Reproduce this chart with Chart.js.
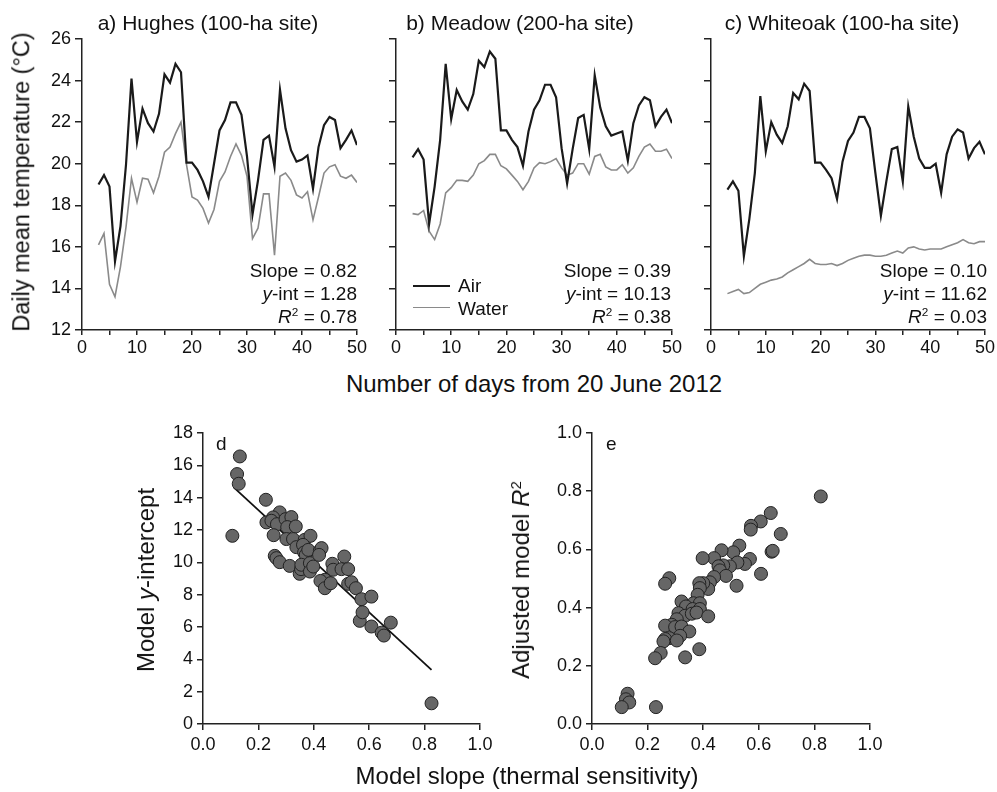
<!DOCTYPE html>
<html>
<head>
<meta charset="utf-8">
<script src="https://cdn.jsdelivr.net/npm/chart.js@4.4.1/dist/chart.umd.min.js"></script>
<style>
  html, body { margin: 0; padding: 0; background: #fff; }
  #wrap { position: relative; width: 997px; height: 792px; overflow: hidden;
          font-family: "Liberation Sans", Arial, Helvetica, sans-serif; color: #111; }
  canvas { position: absolute; }
  .t { position: absolute; white-space: nowrap; line-height: 1; }
  .c { transform: translate(-50%, -50%); }
  .r { transform: translate(-100%, -50%); }
  .l { transform: translate(0, -50%); }
  .rot { transform: translate(-50%, -50%) rotate(-90deg); }
  sup { font-size: 0.62em; vertical-align: 0.55em; line-height: 0; }
  .leg { position: absolute; height: 0; }
</style>
</head>
<body>
<div id="wrap">
  <canvas id="ca" width="375" height="365" style="left:0;top:0"></canvas>
  <canvas id="cb" width="310" height="365" style="left:380px;top:0"></canvas>
  <canvas id="cc" width="302" height="365" style="left:695px;top:0"></canvas>
  <canvas id="cd" width="365" height="380" style="left:140px;top:400px"></canvas>
  <canvas id="ce" width="370" height="380" style="left:530px;top:400px"></canvas>

  <div class="t c" style="left:208px;top:22px;font-size:21px">a) Hughes (100-ha site)</div>
  <div class="t c" style="left:520px;top:22px;font-size:21px">b) Meadow (200-ha site)</div>
  <div class="t c" style="left:842px;top:22px;font-size:21px">c) Whiteoak (100-ha site)</div>

  <div class="t rot" style="left:22px;top:182px;font-size:23.5px">Daily mean temperature (°C)</div>
  <div class="t c" style="left:534px;top:384px;font-size:24px">Number of days from 20 June 2012</div>

  <div class="t r" style="left:357px;top:270px;font-size:19px">Slope = 0.82</div>
  <div class="t r" style="left:357px;top:293px;font-size:19px"><i>y</i>-int = 1.28</div>
  <div class="t r" style="left:357px;top:316px;font-size:19px"><i>R</i><sup>2</sup> = 0.78</div>

  <div class="t r" style="left:671px;top:270px;font-size:19px">Slope = 0.39</div>
  <div class="t r" style="left:671px;top:293px;font-size:19px"><i>y</i>-int = 10.13</div>
  <div class="t r" style="left:671px;top:316px;font-size:19px"><i>R</i><sup>2</sup> = 0.38</div>

  <div class="t r" style="left:987px;top:270px;font-size:19px">Slope = 0.10</div>
  <div class="t r" style="left:987px;top:293px;font-size:19px"><i>y</i>-int = 11.62</div>
  <div class="t r" style="left:987px;top:316px;font-size:19px"><i>R</i><sup>2</sup> = 0.03</div>

  <div class="leg" style="left:413px;top:285px;width:37px;border-top:2.2px solid #1a1a1a"></div>
  <div class="leg" style="left:413px;top:307px;width:37px;border-top:1.6px solid #8a8a8a"></div>
  <div class="t l" style="left:458px;top:285px;font-size:19px">Air</div>
  <div class="t l" style="left:458px;top:308px;font-size:19px">Water</div>

  <div class="t l" style="left:216px;top:443px;font-size:19px">d</div>
  <div class="t l" style="left:606px;top:443px;font-size:19px">e</div>

  <div class="t rot" style="left:146px;top:580px;font-size:24px">Model <i>y</i>-intercept</div>
  <div class="t rot" style="left:521px;top:580px;font-size:24px">Adjusted model <i>R</i><sup>2</sup></div>
  <div class="t c" style="left:527px;top:776px;font-size:24px">Model slope (thermal sensitivity)</div>
</div>

<script>
// days since 20 June 2012
const days = [3, 4, 5, 6, 7, 8, 9, 10, 11, 12, 13, 14, 15, 16, 17, 18, 19, 20, 21, 22, 23, 24, 25, 26,
  27, 28, 29, 30, 31, 32, 33, 34, 35, 36, 37, 38, 39, 40, 41, 42, 43, 44, 45, 46, 47, 48, 49, 50];

const hughesAir = [19.0, 19.45, 18.9, 15.3, 17.0, 19.95, 24.1, 21.05, 22.65, 21.95, 21.55, 22.4, 24.3, 23.9,
  24.8, 24.4, 20.05, 20.05, 19.7, 19.15, 18.4, 20.0, 21.6, 22.1, 22.95, 22.95, 22.35, 20.35, 17.55, 19.2,
  21.15, 21.35, 19.85, 23.55, 21.7, 20.65, 20.1, 20.2, 20.4, 18.8, 20.8, 21.85, 22.25, 22.1, 20.75, 21.15, 21.6, 20.9];
const hughesWater = [16.1, 16.65, 14.2, 13.6, 15.05, 16.95, 19.3, 18.15, 19.3, 19.25, 18.6, 19.4, 20.55, 20.8,
  21.45, 22.0, 19.95, 18.4, 18.25, 17.85, 17.15, 17.8, 19.15, 19.6, 20.35, 20.95, 20.4, 19.4, 16.4, 16.9,
  18.55, 18.55, 15.6, 19.4, 19.55, 19.2, 18.5, 18.35, 18.65, 17.3, 18.4, 19.55, 19.85, 19.95, 19.4, 19.3, 19.45, 19.1];

const meadowAir = [20.3, 20.7, 20.2, 17.1, 18.9, 21.15, 24.8, 22.15, 23.55, 23.0, 22.6, 23.35, 24.95, 24.65,
  25.4, 25.05, 21.6, 21.6, 21.15, 20.8, 19.9, 21.55, 22.6, 23.05, 23.8, 23.8, 23.2, 20.75, 19.05, 20.7,
  22.2, 22.35, 20.7, 24.25, 22.7, 21.8, 21.35, 21.45, 21.55, 20.15, 21.95, 22.8, 23.2, 23.05, 21.8, 22.25, 22.6, 21.95];
const meadowWater = [17.6, 17.55, 17.75, 16.75, 16.35, 17.1, 18.6, 18.85, 19.2, 19.2, 19.15, 19.45, 20.0, 20.15,
  20.45, 20.45, 19.9, 19.75, 19.45, 19.15, 18.75, 19.15, 19.8, 20.05, 20.0, 20.1, 20.25, 19.8, 19.45, 19.55,
  20.0, 20.0, 19.5, 20.35, 20.45, 19.85, 19.7, 19.7, 19.95, 19.55, 19.8, 20.35, 20.8, 20.95, 20.6, 20.6, 20.7, 20.25];

const whiteoakAir = [18.75, 19.15, 18.7, 15.55, 17.35, 19.55, 23.25, 20.6, 22.0, 21.4, 21.0, 21.8, 23.4, 23.1,
  23.85, 23.5, 20.05, 20.05, 19.7, 19.3, 18.3, 20.1, 21.1, 21.5, 22.25, 22.25, 21.7, 19.55, 17.5, 19.15,
  20.7, 20.8, 19.15, 22.75, 21.3, 20.25, 19.8, 19.8, 20.0, 18.6, 20.45, 21.3, 21.65, 21.5, 20.25, 20.75, 21.05, 20.45];
const whiteoakWater = [13.75, 13.85, 13.95, 13.75, 13.8, 14.0, 14.2, 14.3, 14.4, 14.45, 14.55, 14.75, 14.9, 15.05,
  15.2, 15.4, 15.2, 15.15, 15.15, 15.2, 15.1, 15.2, 15.35, 15.45, 15.55, 15.6, 15.6, 15.55, 15.55, 15.6,
  15.7, 15.8, 15.7, 15.95, 16.0, 15.9, 15.85, 15.9, 15.9, 15.9, 16.0, 16.1, 16.2, 16.35, 16.2, 16.15, 16.25, 16.25];

// panel d: slope vs intercept
const slopeD = [0.133, 0.123, 0.129, 0.106, 0.227, 0.277, 0.253, 0.229, 0.247, 0.267, 0.298, 0.319, 0.304, 0.335,
  0.255, 0.301, 0.325, 0.367, 0.388, 0.337, 0.361, 0.259, 0.265, 0.277, 0.313, 0.349, 0.354, 0.365, 0.371, 0.380,
  0.355, 0.386, 0.386, 0.398, 0.422, 0.428, 0.419, 0.467, 0.470, 0.440, 0.424, 0.440, 0.461, 0.500, 0.510, 0.524,
  0.524, 0.536, 0.552, 0.572, 0.608, 0.566, 0.576, 0.608, 0.645, 0.653, 0.678, 0.825];
const interceptD = [16.55, 15.46, 14.86, 11.64, 13.87, 13.09, 12.78, 12.47, 12.57, 12.36, 12.67, 12.8, 12.18, 12.22,
  11.68, 11.44, 11.44, 11.39, 11.64, 10.94, 11.08, 10.4, 10.26, 10.01, 9.78, 9.29, 9.58, 10.61, 10.46, 10.77,
  9.85, 9.95, 9.43, 9.74, 10.73, 10.88, 10.46, 9.91, 9.54, 8.92, 8.85, 8.4, 8.71, 9.58, 10.36, 9.58,
  8.67, 8.77, 8.4, 7.72, 7.88, 6.38, 6.91, 6.03, 5.65, 5.47, 6.27, 1.28];
const fitX = [0.11, 0.825];
const fitY = [14.65, 3.35];

// panel e: slope vs adjusted R2
const slopeE = [0.823, 0.643, 0.607, 0.572, 0.571, 0.679, 0.646, 0.650, 0.608, 0.530, 0.508, 0.466, 0.439, 0.398,
  0.568, 0.550, 0.523, 0.496, 0.472, 0.455, 0.460, 0.482, 0.520, 0.439, 0.424, 0.418, 0.400, 0.386, 0.388, 0.380,
  0.365, 0.388, 0.322, 0.338, 0.362, 0.388, 0.311, 0.335, 0.359, 0.376, 0.418, 0.305, 0.287, 0.263, 0.299, 0.322,
  0.350, 0.317, 0.278, 0.263, 0.257, 0.305, 0.278, 0.263, 0.247, 0.227, 0.335, 0.386, 0.128, 0.122, 0.134, 0.107, 0.230];
const r2E = [0.782, 0.725, 0.696, 0.681, 0.668, 0.653, 0.592, 0.595, 0.516, 0.613, 0.590, 0.597, 0.570, 0.570,
  0.567, 0.550, 0.555, 0.542, 0.545, 0.542, 0.528, 0.509, 0.475, 0.505, 0.487, 0.464, 0.484, 0.484, 0.467, 0.444,
  0.415, 0.415, 0.421, 0.404, 0.395, 0.395, 0.381, 0.372, 0.379, 0.383, 0.370, 0.360, 0.341, 0.338, 0.333, 0.335,
  0.318, 0.303, 0.295, 0.292, 0.284, 0.287, 0.501, 0.482, 0.244, 0.226, 0.229, 0.257, 0.104, 0.085, 0.074, 0.058, 0.058];

const FONT = '"Liberation Sans", Arial, Helvetica, sans-serif';
const AXIS = '#222';

function pairs(xs, ys) {
  return xs.map((x, i) => ({ x: x, y: ys[i] }));
}

// builds one scale; size fixes the axis box so the plot area lands where we want it
function axis(opts) {
  return {
    type: 'linear',
    position: opts.position,
    min: opts.min,
    max: opts.max,
    border: { display: true, color: AXIS, width: 1.5 },
    grid: { drawOnChartArea: false, drawTicks: true, tickLength: opts.tickLength || 6, color: AXIS, lineWidth: 1.5 },
    ticks: {
      stepSize: opts.step,
      autoSkip: false,
      maxRotation: 0,
      padding: opts.pad !== undefined ? opts.pad : 4,
      color: '#111',
      font: { family: FONT, size: 18 },
      callback: opts.label
    },
    afterFit: (s) => {
      if (opts.position === 'left') s.width = opts.size;
      else s.height = opts.size;
    }
  };
}

function makeChart(id, datasets, xOpts, yOpts, padding) {
  return new Chart(document.getElementById(id), {
    type: 'scatter',
    data: { datasets: datasets },
    options: {
      responsive: false,
      animation: false,
      devicePixelRatio: 1,
      layout: { padding: padding },
      plugins: { legend: { display: false }, tooltip: { enabled: false } },
      scales: { x: axis(xOpts), y: axis(yOpts) }
    }
  });
}

function tempSeries(air, water) {
  return [
    { type: 'line', data: pairs(days, air), borderColor: '#1a1a1a', borderWidth: 2.2, pointRadius: 0, tension: 0 },
    { type: 'line', data: pairs(days, water), borderColor: '#8a8a8a', borderWidth: 1.6, pointRadius: 0, tension: 0 }
  ];
}

const dayTicks = (v) => (v % 10 === 0 ? String(v) : '');
const noLabel = () => '';

makeChart('ca', tempSeries(hughesAir, hughesWater),
  { position: 'bottom', min: 0, max: 50, step: 5, size: 35, label: dayTicks, tickLength: 5, pad: 2 },
  { position: 'left', min: 12, max: 26, step: 2, size: 82, label: (v) => String(v), tickLength: 7 },
  { top: 39, right: 18, left: 0, bottom: 0 });

makeChart('cb', tempSeries(meadowAir, meadowWater),
  { position: 'bottom', min: 0, max: 50, step: 5, size: 35, label: dayTicks, tickLength: 5, pad: 2 },
  { position: 'left', min: 12, max: 26, step: 2, size: 16, label: noLabel, tickLength: 7 },
  { top: 39, right: 18, left: 0, bottom: 0 });

makeChart('cc', tempSeries(whiteoakAir, whiteoakWater),
  { position: 'bottom', min: 0, max: 50, step: 5, size: 35, label: dayTicks, tickLength: 5, pad: 2 },
  { position: 'left', min: 12, max: 26, step: 2, size: 16, label: noLabel, tickLength: 7 },
  { top: 39, right: 11, left: 0, bottom: 0 });

const dot = { pointRadius: 6.5, backgroundColor: '#666', borderColor: '#222', borderWidth: 1 };

makeChart('cd', [
    Object.assign({ data: pairs(slopeD, interceptD) }, dot),
    { type: 'line', data: pairs(fitX, fitY), borderColor: '#111', borderWidth: 1.8, pointRadius: 0 }
  ],
  { position: 'bottom', min: 0, max: 1, step: 0.2, size: 56, label: (v) => v.toFixed(1) },
  { position: 'left', min: 0, max: 18, step: 2, size: 63, label: (v) => String(v) },
  { top: 33, right: 25, left: 0, bottom: 0 });

makeChart('ce', [Object.assign({ data: pairs(slopeE, r2E) }, dot)],
  { position: 'bottom', min: 0, max: 1, step: 0.2, size: 56, label: (v) => v.toFixed(1) },
  { position: 'left', min: 0, max: 1, step: 0.2, size: 62, label: (v) => v.toFixed(1) },
  { top: 33, right: 30, left: 0, bottom: 0 });
</script>
</body>
</html>
